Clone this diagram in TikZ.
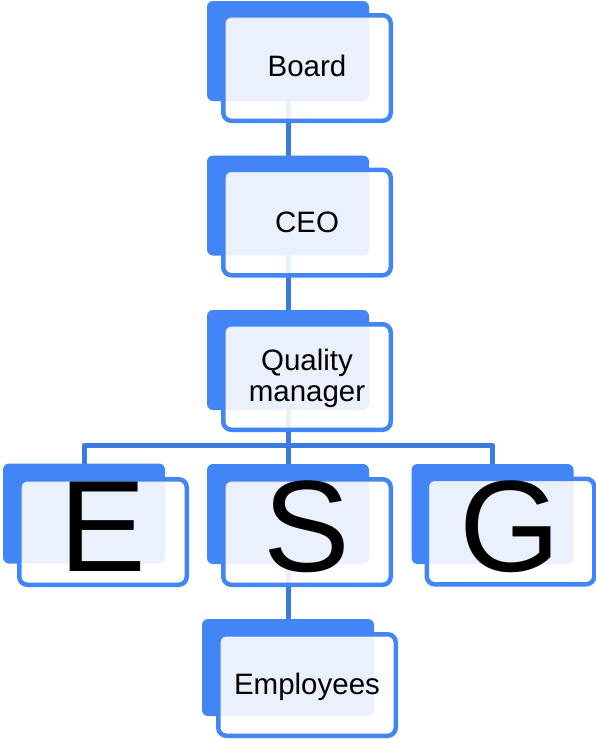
\documentclass[tikz,border=0pt]{standalone}
\usepackage{fontspec}
\setmainfont{Liberation Sans}
\usetikzlibrary{backgrounds}
\definecolor{cardblue}{HTML}{4285F4}
\definecolor{linkblue}{HTML}{3B7BE0}
\begin{document}
\begin{tikzpicture}[x=1pt,y=-1pt,
  backcard/.style={rectangle, rounded corners=6pt, fill=cardblue, draw=none,
    minimum width=162pt, minimum height=100pt, inner sep=0pt},
  frontcard/.style={rectangle, rounded corners=8pt, draw=cardblue, line width=4.5pt,
    fill=white, fill opacity=0.89,
    minimum width=167.5pt, minimum height=105.5pt, inner sep=0pt},
  label/.style={font=\fontsize{29.5}{31}\selectfont, text=black, inner sep=0pt, align=center},
  biglabel/.style={font=\fontsize{130}{130}\selectfont, text=black, inner sep=0pt, anchor=base},
  link/.style={draw=linkblue, line width=5pt}]
\useasboundingbox (0,0) rectangle (596,739);

% back cards
\node[backcard] (board) at (288,51) {};
\node[backcard] (ceo) at (288,205.5) {};
\node[backcard] (qm) at (288,360) {};
\node[backcard] (e) at (84,513.5) {};
\node[backcard] (s) at (288,514) {};
\node[backcard] (g) at (492.5,514) {};
\node[backcard, minimum width=172pt, minimum height=97pt] (emp) at (288,667.5) {};

% connectors behind the cards
\coordinate (bus) at (288,445.5);
\begin{pgfonlayer}{background}
  \draw[link] (board.center) -- (ceo.center);
  \draw[link] (ceo.center) -- (qm.center);
  \draw[link] (qm.center) -- (s.center);
  \draw[link] (s.center) -- (emp.center);
  \draw[link, line join=round] (e.center) |- (bus) -| (g.center);
\end{pgfonlayer}

% front cards
\node[frontcard] (boardf) at (307,68) {};
\node[frontcard] (ceof) at (307,222.5) {};
\node[frontcard] (qmf) at (307,377) {};
\node[frontcard] (ef) at (103,532) {};
\node[frontcard] (sf) at (307,532) {};
\node[frontcard] (gf) at (510.5,531.5) {};
\node[frontcard, minimum width=177.5pt, minimum height=101.5pt] (empf) at (307,685) {};

% texts
\node[label, anchor=base] (boardt) at (307,76) {Board};
\node[label, anchor=base] (ceot) at (307,232) {CEO};
\node[label] (qmt) at (307,378.5) {Quality\\manager};
\node[biglabel] (et) at (103,571.5) {E};
\node[biglabel] (st) at (307,571.5) {S};
\node[biglabel] (gt) at (510.5,571.5) {G};
\node[label, anchor=base] (empt) at (307,694) {Employees};
\end{tikzpicture}
\end{document}
